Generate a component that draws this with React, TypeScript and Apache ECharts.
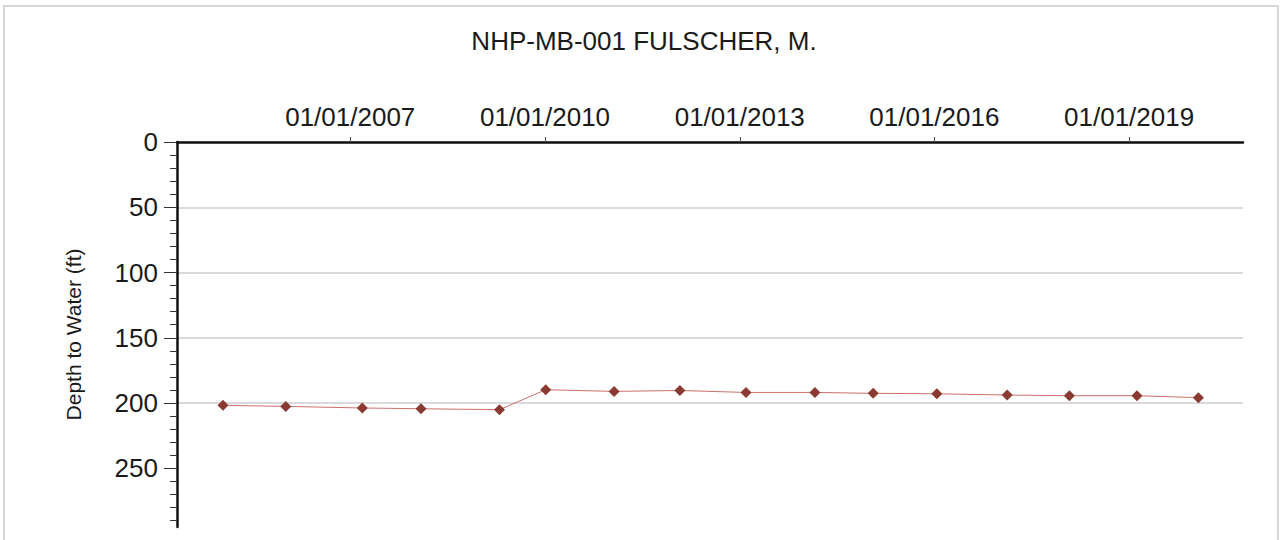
import React, { useEffect, useRef } from "react";
import * as echarts from "echarts";

const TITLE = "NHP-MB-001 FULSCHER, M.";
const Y_NAME = "Depth to Water (ft)";

const sampleDates = [
  "2005-01-15", "2006-01-03", "2007-03-10", "2008-02-03", "2009-04-20",
  "2010-01-05", "2011-01-25", "2012-01-30", "2013-02-05", "2014-02-28",
  "2015-01-22", "2016-01-15", "2017-02-14", "2018-01-30", "2019-02-14",
  "2020-01-26",
];
const depths = [
  201.8, 202.6, 203.8, 204.4, 205.1,
  189.8, 191.1, 190.4, 191.9, 191.9,
  192.6, 192.9, 193.9, 194.4, 194.4,
  195.9,
];
const xTickDates = ["2007-01-01", "2010-01-01", "2013-01-01", "2016-01-01", "2019-01-01"];
const X_MIN = "2004-05-01";
const X_MAX = "2020-10-03";
const yTicks = [0, 50, 100, 150, 200, 250];
const Y_MIN = 0;
const Y_MAX = 295;
const Y_STEP = 50;

const FONT = "'Liberation Sans', Arial, sans-serif";

function toUTC(s: string): number {
  const [y, m, d] = s.split("-").map(Number);
  return Date.UTC(y, m - 1, d);
}
function pad(n: number) {
  return n < 10 ? "0" + n : "" + n;
}
function fmtDate(v: number): string {
  const d = new Date(v);
  return pad(d.getUTCMonth() + 1) + "/" + pad(d.getUTCDate()) + "/" + d.getUTCFullYear();
}

export default function App() {
  const ref = useRef<HTMLDivElement>(null);
  useEffect(() => {
    if (!ref.current) return;
    const chart = echarts.init(ref.current, null, { renderer: "svg" });
    const xTicks = xTickDates.map(toUTC);
    chart.setOption({
      animation: false,
      backgroundColor: "#ffffff",
      title: {
        text: TITLE,
        left: 639,
        top: 23,
        textAlign: "center",
        textStyle: { fontFamily: FONT, fontSize: 26, fontWeight: "normal", color: "#1a1a1a" },
      },
      graphic: [
        {
          type: "rect",
          shape: { x: 4, y: 6, width: 1274, height: 600 },
          style: { fill: "none", stroke: "#d6d6d6", lineWidth: 2 },
          silent: true,
        },
      ],
      grid: { left: 177, top: 142, right: 39, bottom: 13, containLabel: false },
      xAxis: {
        type: "value",
        position: "top",
        min: toUTC(X_MIN),
        max: toUTC(X_MAX),
        axisLine: { show: true, lineStyle: { color: "#111", width: 2.5 } },
        axisTick: { show: true, length: 5, lineStyle: { color: "#555", width: 1 }, customValues: xTicks },
        axisLabel: {
          customValues: xTicks,
          formatter: (v: number) => fmtDate(v),
          fontFamily: FONT,
          fontSize: 26,
          color: "#1a1a1a",
          margin: 12,
        },
        splitLine: { show: false },
      },
      yAxis: {
        type: "value",
        inverse: true,
        min: Y_MIN,
        max: Y_MAX,
        interval: Y_STEP,
        name: Y_NAME,
        nameLocation: "middle",
        nameGap: 93,
        nameTextStyle: { fontFamily: FONT, fontSize: 21, color: "#1a1a1a" },
        axisLine: { show: true, lineStyle: { color: "#111", width: 2.5 } },
        axisTick: { show: true, length: 13, lineStyle: { color: "#333", width: 1 }, customValues: yTicks },
        minorTick: { show: true, splitNumber: 5, length: 7, lineStyle: { color: "#333", width: 1 } },
        axisLabel: {
          customValues: yTicks,
          fontFamily: FONT,
          fontSize: 26,
          color: "#1a1a1a",
          margin: 19,
        },
        splitLine: { show: true, showMaxLine: false, lineStyle: { color: "#dadada", width: 2 } },
      },
      series: [
        {
          type: "line",
          data: sampleDates.map((d, i) => [toUTC(d), depths[i]]),
          symbol: "diamond",
          symbolSize: 11,
          itemStyle: { color: "#8a3a30" },
          lineStyle: { color: "#cc7268", width: 1 },
          z: 5,
        },
      ],
    });
    return () => chart.dispose();
  }, []);
  return (
    <div
      ref={ref}
      style={{ position: "fixed", left: 0, top: 0, width: 1282, height: 540 }}
    />
  );
}
